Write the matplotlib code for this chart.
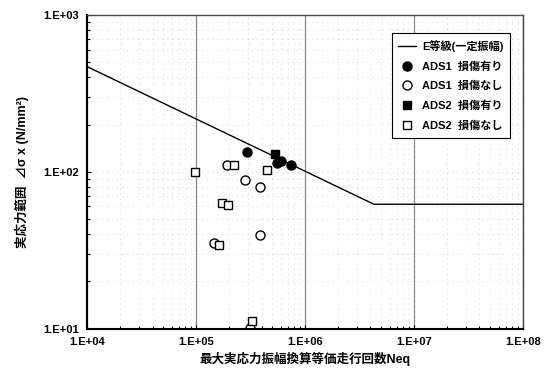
import numpy as np
import matplotlib
matplotlib.use("Agg")
import matplotlib.pyplot as plt
from matplotlib.ticker import LogLocator, FixedLocator, NullFormatter

plt.rcParams['font.family'] = ['Liberation Sans', 'Noto Sans CJK JP', 'DejaVu Sans']

# ── Data ──────────────────────────────────────────────────────────────────────
# E-grade fatigue curve (constant amplitude limit)
line_n = [1e4, 4.3e6, 1e8]
line_s = [468, 62, 62]

ads1_dmg_n = [2.96e5, 5.57e5, 5.98e5, 7.39e5]
ads1_dmg_s = [133, 113, 117, 111]

ads1_ok_n = [1.91e5, 2.82e5, 3.86e5, 3.86e5, 1.47e5, 3.13e5]
ads1_ok_s = [111, 88, 80, 39.5, 34.9, 10.1]

ads2_dmg_n = [5.35e5]
ads2_dmg_s = [130]

ads2_ok_n = [9.8e4, 2.24e5, 4.46e5, 1.72e5, 1.95e5, 1.63e5, 3.27e5]
ads2_ok_s = [100, 111, 103, 63, 61.5, 33.9, 11.1]

x_ticks = [1e4, 1e5, 1e6, 1e7, 1e8]
x_labels = ["1.E+04", "1.E+05", "1.E+06", "1.E+07", "1.E+08"]
y_ticks = [1e1, 1e2, 1e3]
y_labels = ["1.E+01", "1.E+02", "1.E+03"]

# ── Figure ────────────────────────────────────────────────────────────────────
fig = plt.figure(figsize=(5.44, 3.82), dpi=100)
ax = fig.add_axes([0.160, 0.140, 0.801, 0.821])
ax.set_xscale("log")
ax.set_yscale("log")
ax.set_xlim(1e4, 1e8)
ax.set_ylim(1e1, 1e3)

# grid
ax.xaxis.set_minor_locator(LogLocator(base=10, subs=np.arange(2, 10), numticks=20))
ax.yaxis.set_minor_locator(LogLocator(base=10, subs=np.arange(2, 10), numticks=20))
ax.xaxis.set_minor_formatter(NullFormatter())
ax.yaxis.set_minor_formatter(NullFormatter())
ax.grid(True, which="major", axis="x", color="#888888", lw=0.9, ls="-")
ax.grid(True, which="major", axis="y", color="#bbbbbb", lw=0.6, ls=(0, (1, 5)))
ax.grid(True, which="minor", axis="both", color="#c4c4c4", lw=0.6, ls=(0, (1, 5)))
ax.set_axisbelow(True)

ax.plot(line_n, line_s, color="black", lw=1.0, label="E等級(一定振幅)")
ax.plot(ads1_dmg_n, ads1_dmg_s, ls="none", marker="o", ms=6.5, mfc="black",
        mec="black", label="ADS1  損傷有り")
ax.plot(ads1_ok_n, ads1_ok_s, ls="none", marker="o", ms=6.5, mfc="white",
        mec="black", mew=1.0, label="ADS1  損傷なし")
ax.plot(ads2_dmg_n, ads2_dmg_s, ls="none", marker="s", ms=6, mfc="black",
        mec="black", label="ADS2  損傷有り")
ax.plot(ads2_ok_n, ads2_ok_s, ls="none", marker="s", ms=6, mfc="white",
        mec="black", mew=1.0, label="ADS2  損傷なし")

ax.xaxis.set_major_locator(FixedLocator(x_ticks))
ax.yaxis.set_major_locator(FixedLocator(y_ticks))
ax.set_xticklabels(x_labels, fontsize=8, fontweight="bold")
ax.set_yticklabels(y_labels, fontsize=8, fontweight="bold")
ax.tick_params(which="both", direction="in", length=3, width=0.8)
ax.tick_params(which="major", pad=6)
ax.tick_params(which="minor", length=2)

for s in ("left", "bottom"):
    ax.spines[s].set_linewidth(1.5)
for s in ("top", "right"):
    ax.spines[s].set_linewidth(1.0)
    ax.spines[s].set_color("#444444")

ax.set_xlabel("最大実応力振幅換算等価走行回数Neq", fontsize=9, fontweight="bold", labelpad=4)
ax.set_ylabel("実応力範囲  ⊿σ x (N/mm²)", fontsize=9, fontweight="bold", labelpad=10)

leg = ax.legend(loc="upper right", bbox_to_anchor=(0.983, 0.96), fontsize=8,
                frameon=True, fancybox=False, edgecolor="black", framealpha=1,
                handlelength=1.6, handletextpad=0.5, labelspacing=0.85,
                borderpad=0.6)
leg.get_frame().set_linewidth(0.8)
for t in leg.get_texts():
    t.set_fontweight("bold")

fig.savefig("out.png", dpi=100)
